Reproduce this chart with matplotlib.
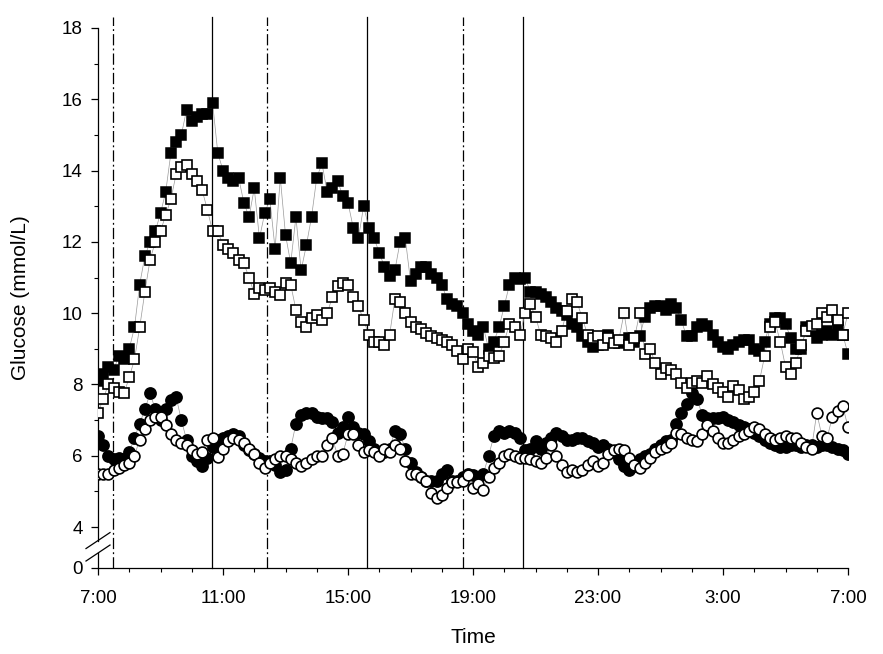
import numpy as np
import matplotlib
matplotlib.use("Agg")
import matplotlib.pyplot as plt
from matplotlib.lines import Line2D
from matplotlib.transforms import IdentityTransform

plt.rcParams['font.family'] = ['Liberation Sans', 'DejaVu Sans']

# glucose (mmol/L), one reading every 10 min from 7:00 to 7:00 next day
filled_squares = [
    8.1, 8.3, 8.5, 8.4, 8.8, 8.7,
    9.0, 9.6, 10.8, 11.6, 12.0, 12.3,
    12.8, 13.4, 14.5, 14.8, 15.0, 15.7,
    15.4, 15.5, 15.6, 15.6, 15.9, 14.5,
    14.0, 13.8, 13.7, 13.8, 13.1, 12.7,
    13.5, 12.1, 12.8, 13.2, 11.8, 13.8,
    12.2, 11.4, 12.7, 11.2, 11.9, 12.7,
    13.8, 14.2, 13.4, 13.5, 13.7, 13.3,
    13.1, 12.4, 12.1, 13.0, 12.4, 12.1,
    11.7, 11.3, 11.05, 11.2, 12.0, 12.1,
    10.9, 11.1, 11.3, 11.3, 11.1, 11.0,
    10.8, 10.4, 10.25, 10.2, 10.0, 9.7,
    9.5, 9.4, 9.6, 9.0, 9.2, 9.6,
    10.2, 10.8, 11.0, 10.95, 11.0, 10.6,
    10.6, 10.55, 10.45, 10.3, 10.15, 10.05,
    9.95, 9.7, 9.6, 9.35, 9.2, 9.05,
    9.1, 9.3, 9.4, 9.2, 9.15, 9.2,
    9.3, 9.2, 9.35, 9.9, 10.15, 10.2,
    10.2, 10.1, 10.25, 10.15, 9.8, 9.35,
    9.35, 9.6, 9.7, 9.65, 9.4, 9.2,
    9.05, 9.0, 9.1, 9.2, 9.25, 9.25,
    9.0, 8.95, 9.2, 9.7, 9.85, 9.85,
    9.7, 9.3, 9.0, 9.0, 9.6, 9.5,
    9.3, 9.4, 9.5, 9.4, 9.6, 9.4,
    8.85,
]
open_squares = [
    7.2, 7.6, 8.0, 7.9, 7.8, 7.75,
    8.2, 8.7, 9.6, 10.6, 11.5, 12.0,
    12.3, 12.75, 13.2, 13.9, 14.1, 14.15,
    13.9, 13.7, 13.45, 12.9, 12.3, 12.3,
    11.9, 11.8, 11.7, 11.5, 11.4, 11.0,
    10.55, 10.7, 10.65, 10.7, 10.6, 10.5,
    10.85, 10.8, 10.1, 9.75, 9.6, 9.85,
    9.95, 9.8, 10.0, 10.45, 10.75, 10.85,
    10.8, 10.45, 10.2, 9.8, 9.4, 9.2,
    9.2, 9.1, 9.4, 10.4, 10.3, 10.0,
    9.75, 9.6, 9.55, 9.45, 9.35, 9.3,
    9.25, 9.2, 9.1, 8.95, 8.7, 9.0,
    8.9, 8.5, 8.6, 8.8, 8.75, 8.8,
    9.2, 9.7, 9.6, 9.4, 10.0, 10.25,
    9.9, 9.4, 9.35, 9.3, 9.2, 9.5,
    10.05, 10.4, 10.3, 9.85, 9.4, 9.3,
    9.35, 9.1, 9.3, 9.15, 9.25, 10.0,
    9.1, 9.3, 10.0, 8.85, 9.0, 8.6,
    8.3, 8.45, 8.4, 8.3, 8.05, 7.9,
    8.05, 8.1, 8.05, 8.25, 8.0, 7.9,
    7.8, 7.65, 7.95, 7.85, 7.6, 7.65,
    7.8, 8.1, 8.8, 9.6, 9.75, 9.2,
    8.5, 8.3, 8.6, 9.1, 9.5, 9.65,
    9.7, 10.0, 9.9, 10.1, 9.8, 9.4,
    10.0,
]
filled_circles = [
    6.55, 6.3, 6.0, 5.9, 5.95, 5.9,
    6.1, 6.5, 6.9, 7.3, 7.75, 7.3,
    7.0, 7.3, 7.55, 7.65, 7.0, 6.45,
    6.0, 5.85, 5.7, 5.95, 6.25, 6.45,
    6.5, 6.55, 6.6, 6.55, 6.3, 6.15,
    6.05, 5.95, 5.85, 5.85, 5.75, 5.55,
    5.6, 6.2, 6.9, 7.15, 7.2, 7.2,
    7.1, 7.05, 7.05, 6.95, 6.65, 6.8,
    7.1, 6.8, 6.65, 6.6, 6.4, 6.2,
    6.07, 6.1, 6.2, 6.7, 6.6, 6.2,
    5.8, 5.55, 5.4, 5.3, 5.3, 5.3,
    5.5, 5.6, 5.3, 5.3, 5.4, 5.5,
    5.45, 5.4, 5.5, 6.0, 6.55, 6.7,
    6.65, 6.7, 6.65, 6.5, 6.15, 6.2,
    6.4, 6.2, 6.35, 6.5, 6.63, 6.55,
    6.45, 6.45, 6.5, 6.5, 6.4, 6.35,
    6.25, 6.3, 6.2, 6.1, 5.9, 5.7,
    5.6, 5.7, 5.9, 6.0, 6.05, 6.2,
    6.3, 6.4, 6.45, 6.9, 7.2, 7.45,
    7.75, 7.6, 7.15, 7.05, 7.05, 7.05,
    7.1, 7.0, 6.95, 6.85, 6.8, 6.75,
    6.65, 6.55, 6.45, 6.35, 6.3, 6.25,
    6.25, 6.3, 6.3, 6.25, 6.3, 6.3,
    6.25, 6.3, 6.3, 6.25, 6.2, 6.15,
    6.05,
]
open_circles = [
    5.5, 5.5, 5.5, 5.6, 5.65, 5.75,
    5.8, 6.0, 6.45, 6.75, 7.0, 7.1,
    7.1, 6.85, 6.6, 6.45, 6.35, 6.3,
    6.15, 6.05, 6.1, 6.45, 6.5, 5.97,
    6.2, 6.4, 6.5, 6.45, 6.35, 6.2,
    6.05, 5.8, 5.65, 5.8, 5.9, 6.0,
    6.0, 5.9, 5.8, 5.7, 5.8, 5.9,
    6.0, 6.0, 6.3, 6.5, 6.0, 6.05,
    6.6, 6.6, 6.3, 6.1, 6.15, 6.1,
    6.0, 6.2, 6.1, 6.3, 6.2, 5.85,
    5.5, 5.5, 5.4, 5.3, 4.95, 4.8,
    4.9, 5.1, 5.25, 5.25, 5.3, 5.45,
    5.1, 5.2, 5.05, 5.4, 5.65, 5.8,
    6.0, 6.05, 6.0, 5.95, 5.95, 5.9,
    5.85, 5.8, 5.95, 6.3, 6.0, 5.75,
    5.55, 5.6, 5.55, 5.6, 5.75, 5.85,
    5.7, 5.8, 6.05, 6.15, 6.2, 6.15,
    5.95, 5.75, 5.65, 5.8, 5.95, 6.1,
    6.2, 6.25, 6.35, 6.65, 6.6, 6.5,
    6.45, 6.4, 6.6, 6.85, 6.7, 6.5,
    6.35, 6.35, 6.45, 6.55, 6.6, 6.7,
    6.8, 6.75, 6.6, 6.5, 6.45, 6.5,
    6.55, 6.5, 6.5, 6.35, 6.25, 6.2,
    7.2, 6.55, 6.5, 7.1, 7.25, 7.4,
    6.8,
]

# event lines, hours after 7:00
dashdot_times = [0.48, 5.42, 11.68]
solid_times = [3.65, 8.6, 13.6]

hour_ticks = [0, 4, 8, 12, 16, 20, 24]
hour_labels = ["7:00", "11:00", "15:00", "19:00", "23:00", "3:00", "7:00"]

y_zero = 2.85   # where "0" sits below the axis break
y_ticks = [4, 6, 8, 10, 12, 14, 16, 18]

hours = np.arange(len(filled_squares)) / 6.0

fig = plt.figure(figsize=(8.83, 6.54), dpi=100)
ax = fig.add_axes([98 / 883, 86 / 654, 750 / 883, 540 / 654])

# event markers
for t in dashdot_times:
    ax.plot([t, t], [y_zero, 18.3], color="black", lw=0.9,
            dashes=(9, 2.5, 1.5, 2.5), clip_on=False, zorder=1)
for t in solid_times:
    ax.plot([t, t], [y_zero, 18.3], color="black", lw=0.9,
            clip_on=False, zorder=1)

# thin connecting traces
for s in [filled_squares, open_squares, filled_circles, open_circles]:
    ax.plot(hours, s, color="0.6", lw=0.5, zorder=2)

ms = 7.8
ax.plot(hours, filled_squares, ls="none", marker="s", ms=ms, mfc="black",
        mec="black", mew=1.1, zorder=3)
ax.plot(hours, open_squares, ls="none", marker="s", ms=ms - 0.4, mfc="white",
        mec="black", mew=1.2, zorder=4)
ax.plot(hours, filled_circles, ls="none", marker="o", ms=ms + 0.3, mfc="black",
        mec="black", mew=1.1, zorder=3)
ax.plot(hours, open_circles, ls="none", marker="o", ms=ms, mfc="white",
        mec="black", mew=1.2, zorder=4)

ax.set_xlim(0, 24)
ax.set_ylim(y_zero, 18)
ax.set_xticks(hour_ticks)
ax.set_xticklabels(hour_labels)
ax.set_xticks(range(0, 25), minor=True)
ax.set_yticks([y_zero] + y_ticks)
ax.set_yticklabels(["0"] + [str(v) for v in y_ticks])
ax.set_yticks(range(5, 18, 2), minor=True)

ax.tick_params(axis="both", which="major", direction="out", length=5,
               width=0.9, labelsize=13.5)
ax.tick_params(axis="both", which="minor", direction="out", length=3,
               width=0.8)
ax.tick_params(axis="x", which="major", pad=11)
ax.tick_params(axis="y", which="major", pad=6)

for side in ["top", "right"]:
    ax.spines[side].set_visible(False)
ax.spines["left"].set_linewidth(0.9)
ax.spines["bottom"].set_linewidth(0.9)

# axis break between 0 and 4
gap_lo, gap_hi = 3.27, 3.62
ax.spines["left"].set_bounds(gap_hi, 18)
ax.plot([0, 0], [y_zero, gap_lo], color="black", lw=0.9, clip_on=False)
fig.canvas.draw()
for v in [gap_lo, gap_hi]:
    px, py = ax.transData.transform((0, v))
    fig.add_artist(Line2D([px - 12, px + 12], [py - 8, py + 8],
                          transform=IdentityTransform(), color="black", lw=0.9))

ax.set_xlabel("Time", fontsize=15)
ax.set_ylabel("Glucose (mmol/L)", fontsize=15)
ax.xaxis.set_label_coords(0.5, -0.112)
ax.yaxis.set_label_coords(-0.09, 0.5)

fig.savefig("out.png", dpi=100)
